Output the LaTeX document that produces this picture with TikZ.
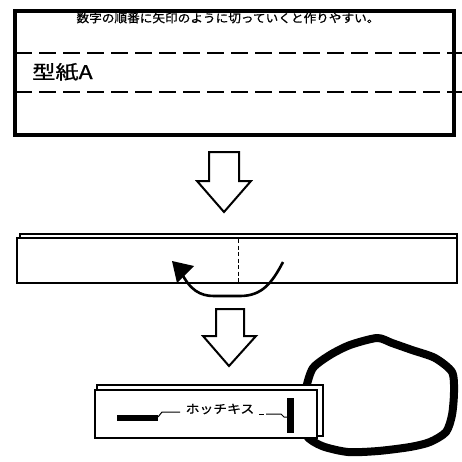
\documentclass[tikz,border=0pt]{standalone}
\usepackage{fontspec}
\newfontfamily\jpfont[FakeBold=0.8]{Noto Sans CJK JP}
\begin{document}
\begin{tikzpicture}[x=1pt,y=-1pt,
  frame/.style={draw=black,line width=3.5pt},
  cutline/.style={draw=black,line width=1.3pt,dash pattern=on 17pt off 7pt},
  strip/.style={draw=black,fill=white,line width=2pt},
  stripback/.style={draw=black,fill=white,line width=1.4pt},
  blockarrow/.style={draw=black,fill=white,line width=2pt,line join=miter},
  foldarrow/.style={draw=black,line width=2.6pt},
  label/.style={inner sep=0pt,font=\jpfont}]
\useasboundingbox (0,0) rectangle (462,461);

% template sheet A with its two cut lines
\draw[frame] (15,11) rectangle (454,135);
\node[label,xscale=1.1,font=\jpfont\fontsize{11.5}{13}\selectfont] (note) at (228,18)
  {数字の順番に矢印のように切っていくと作りやすい。};
\draw[cutline] (15,53) -- (462,53);
\draw[cutline] (15,92) -- (462,92);
\node[label,anchor=west,xscale=1.22,font=\jpfont\fontsize{19}{21}\selectfont] (name) at (32,72) {型紙A};

% step arrow 1
\draw[blockarrow] (209,152) -- (239,152) -- (239,181) -- (251,181) -- (224,212)
  -- (197,181) -- (209,181) -- cycle;

% folded strip
\draw[stripback] (20,234) rectangle (457,281);
\draw[strip] (17,238) rectangle (457,283);
\draw[black,line width=1pt,dash pattern=on 4pt off 2.5pt] (238,239) -- (238,283);
\draw[foldarrow] (283,262) .. controls (272,283) and (262,296) .. (240,296)
  -- (214,296) .. controls (200,296) and (190,290) .. (181,272);
\fill[black] (172,261) -- (194,266) -- (177,283) -- cycle;

% step arrow 2
\draw[blockarrow] (216,309) -- (244,309) -- (244,336) -- (256,336) -- (229,366)
  -- (203,336) -- (216,336) -- cycle;

% loop of the finished band
\draw[black,line width=8pt,line join=round]
  plot[smooth cycle,tension=0.45] coordinates {
  (306,388) (313,368) (330,355) (350,345) (377,338) (392,343) (412,350)
  (435,358) (452,372) (454,392) (452,415) (446,432) (430,442) (410,447)
  (378,451) (348,452) (322,446) (306,435) (302,410)};

% stapled strip
\draw[stripback] (97,385) rectangle (323,436);
\draw[strip] (95,390) rectangle (317,438);
\fill[black] (117,415) rectangle (158,421);
\fill[black] (287,398) rectangle (294,433);
\node[label,xscale=1.15,font=\jpfont\fontsize{12}{14}\selectfont] (staple) at (220,409) {ホッチキス};
\draw[black,line width=1pt] (158,417) -- (162,412) -- (180,412);
\draw[black,line width=1pt] (259,414) -- (264,414);
\draw[black,line width=1pt] (266,414) -- (281,414) -- (284,417) -- (287,417);
\end{tikzpicture}
\end{document}
